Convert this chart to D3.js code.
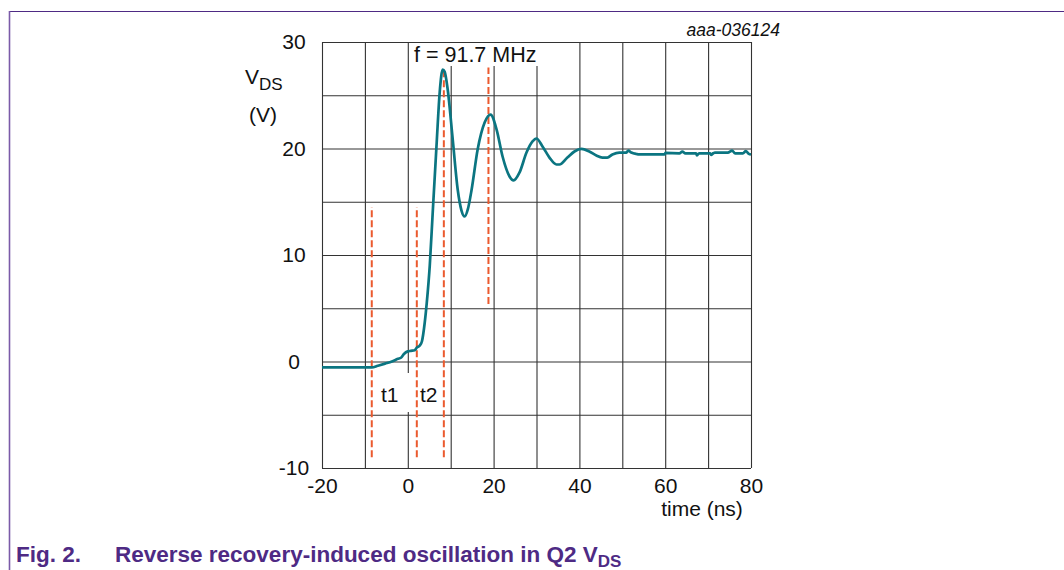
<!DOCTYPE html>
<html>
<head>
<meta charset="utf-8">
<script src="https://cdn.jsdelivr.net/npm/d3@7"></script>
<style>
html,body{margin:0;padding:0;background:#fff;}
svg{display:block;font-family:"Liberation Sans",Arial,sans-serif;}
</style>
</head>
<body>
<svg id="chart" width="1064" height="570"></svg>
<script>
// ---- data ----
const timeNs = [-20, -8.4, -7.0, -5.3, -3.7, -2.3, -1.6, -0.9, 0, 0.7, 1.6, 2.1, 2.8, 3.3, 3.95, 4.42, 5.12, 5.81, 6.74, 7.44, 8.14, 8.6, 9.3, 10.47, 11.63, 12.5, 13.26, 14.0, 14.88, 16.28, 17.91, 19.3, 20.7, 22.09, 23.72, 24.65, 26.05, 27.67, 29.07, 30.0, 31.4, 33.02, 34.65, 35.35, 37.2, 38.84, 40.47, 42.3, 43.95, 45.35, 46.5, 47.7, 49.3, 50.9, 51.4, 52.1, 53.3, 54.0, 59.8, 60.1, 63.3, 64.0, 64.7, 67.2, 67.4, 67.9, 70.5, 70.7, 71.2, 71.6, 74.6, 75.6, 76.3, 78.1, 78.8, 79.5, 80];
const vdsV   = [-0.56, -0.56, -0.4, -0.2, 0.0, 0.25, 0.35, 0.7, 0.95, 1.0, 1.05, 1.3, 1.5, 1.9, 3.66, 5.5, 9.0, 14.0, 20.6, 25.3, 27.42, 27.2, 25.54, 20.85, 16.15, 14.2, 13.62, 14.3, 16.15, 19.91, 22.44, 23.19, 21.78, 19.25, 17.37, 17.0, 17.75, 19.62, 20.66, 20.94, 20.19, 19.15, 18.5, 18.5, 19.15, 19.72, 19.97, 19.72, 19.34, 19.15, 19.15, 19.44, 19.62, 19.62, 19.8, 19.62, 19.48, 19.44, 19.44, 19.58, 19.55, 19.72, 19.55, 19.55, 19.35, 19.55, 19.55, 19.4, 19.55, 19.62, 19.62, 19.8, 19.55, 19.55, 19.75, 19.5, 19.44];

const xTicks = [-20, 0, 20, 40, 60, 80];
const yTicks = [-10, 0, 10, 20, 30];
const xGrid = [-20, -10, 0, 10, 20, 30, 40, 50, 60, 70, 80];
const yGrid = [-10, -5, 0, 5, 10, 15, 20, 25, 30];

// dashed markers: [time, from V, to V]
const markerT    = [-8.4, 2.1, 8.4, 18.8];
const markerFrom = [-9.0, -9.0, -9.0, 5.4];
const markerTo   = [14.5, 14.5, 27.5, 27.6];

const freqLabel = "f = 91.7 MHz";
const docId = "aaa-036124";

// ---- layout ----
const svg = d3.select("#chart");
const L = 322, R = 751, T = 42, B = 468;
const x = d3.scaleLinear().domain([-20, 80]).range([L, R]);
const y = d3.scaleLinear().domain([-10, 30]).range([B, T]);
const purple = "#4e2a84";
const fs = 21;

// frame lines (page)
svg.append("line").attr("x1", 9.5).attr("x2", 1064).attr("y1", 11.5).attr("y2", 11.5)
  .attr("stroke", purple).attr("stroke-width", 1.2);
svg.append("line").attr("x1", 9.5).attr("x2", 9.5).attr("y1", 11).attr("y2", 570)
  .attr("stroke", "#7b5aa8").attr("stroke-width", 1.6);

// grid
const gridCol = "#333";
svg.append("g").attr("transform", `translate(0,${B})`)
  .call(d3.axisBottom(x).tickValues(xGrid).tickSize(-(B - T)).tickFormat(""))
  .call(g => g.select(".domain").remove())
  .call(g => g.selectAll("line").attr("stroke", gridCol).attr("stroke-width", 1.1));
svg.append("g").attr("transform", `translate(${L},0)`)
  .call(d3.axisLeft(y).tickValues(yGrid).tickSize(-(R - L)).tickFormat(""))
  .call(g => g.select(".domain").remove())
  .call(g => g.selectAll("line").attr("stroke", gridCol).attr("stroke-width", 1.1));

// tick labels
svg.append("g").attr("transform", `translate(0,${B})`)
  .call(d3.axisBottom(x).tickValues(xTicks).tickSize(0).tickPadding(10).tickFormat(d => String(d)))
  .call(g => g.select(".domain").remove())
  .call(g => g.selectAll("text").attr("font-size", fs).attr("fill", "#111")
    .attr("font-family", "Liberation Sans, Arial, sans-serif"));
svg.append("g").attr("transform", `translate(294,0)`)
  .call(d3.axisLeft(y).tickValues(yTicks).tickSize(0).tickPadding(0).tickFormat(d => String(d)))
  .call(g => g.select(".domain").remove())
  .call(g => g.selectAll("text").attr("font-size", fs).attr("fill", "#111")
    .attr("text-anchor", "middle")
    .attr("font-family", "Liberation Sans, Arial, sans-serif"));

// axis titles
const yt = svg.append("text").attr("x", 245).attr("y", 84).attr("font-size", fs).attr("fill", "#111");
yt.append("tspan").text("V");
yt.append("tspan").attr("dy", 6).attr("font-size", 17).text("DS");
svg.append("text").attr("x", 249).attr("y", 122).attr("font-size", fs).attr("fill", "#111").text("(V)");
svg.append("text").attr("x", 702).attr("y", 516).attr("text-anchor", "middle")
  .attr("font-size", fs).attr("fill", "#111").text("time (ns)");

// label backdrops
svg.append("rect").attr("x", 409).attr("y", 43).attr("width", 132).attr("height", 23).attr("fill", "#fff");
svg.append("rect").attr("x", 378).attr("y", 373).attr("width", 33).attr("height", 39).attr("fill", "#fff");

// labels
svg.append("text").attr("x", 414).attr("y", 62).attr("font-size", 21.5).attr("fill", "#111").text(freqLabel);
svg.append("text").attr("x", 381).attr("y", 402).attr("font-size", fs).attr("fill", "#111").text("t1");
svg.append("text").attr("x", 420).attr("y", 402).attr("font-size", fs).attr("fill", "#111").text("t2");

// dashed markers
svg.append("g").selectAll("line").data(markerT).join("line")
  .attr("x1", d => x(d)).attr("x2", d => x(d))
  .attr("y1", (d, i) => y(markerFrom[i])).attr("y2", (d, i) => y(markerTo[i]))
  .attr("stroke", "#eb5a2e").attr("stroke-width", 2).attr("stroke-dasharray", "7,3");

// curve
const pts = timeNs.map((t, i) => [t, vdsV[i]]);
svg.append("path").datum(pts)
  .attr("d", d3.line().x(d => x(d[0])).y(d => y(d[1])).curve(d3.curveMonotoneX))
  .attr("fill", "none").attr("stroke", "#0b7581").attr("stroke-width", 2.7)
  .attr("stroke-linejoin", "round");

// doc id
svg.append("text").attr("x", 780).attr("y", 36).attr("text-anchor", "end")
  .attr("font-size", 17.5).attr("font-style", "italic").attr("fill", "#111").text(docId);

// caption
const cap = svg.append("text").attr("y", 562).attr("font-size", 22.5).attr("font-weight", "bold").attr("fill", purple);
cap.append("tspan").attr("x", 16).text("Fig. 2.");
cap.append("tspan").attr("x", 115).text("Reverse recovery-induced oscillation in Q2 V");
cap.append("tspan").attr("dy", 5).attr("font-size", 17).text("DS");
</script>
</body>
</html>
